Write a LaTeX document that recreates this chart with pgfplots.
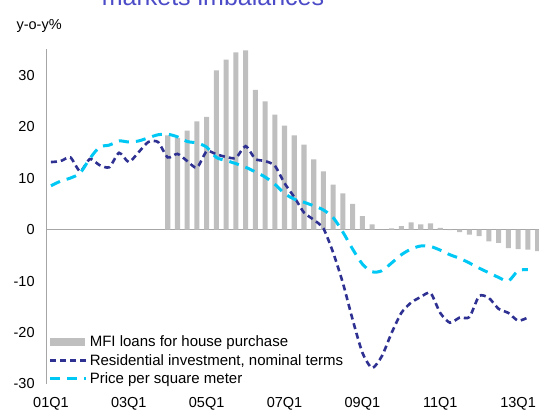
\documentclass[border=0pt]{standalone}
\usepackage{fontspec}
\setmainfont{Liberation Sans}
\usepackage{pgfplots}
\pgfplotsset{compat=1.18}
\definecolor{barcol}{HTML}{BFBFBF}
\definecolor{resblue}{HTML}{2E3192}
\definecolor{pricecyan}{HTML}{00C8F5}
\definecolor{titleblue}{HTML}{4B4BC8}
\definecolor{axcol}{HTML}{A6A6A6}

% MFI loans for house purchase (quarter index, 0 = 01Q1)
\pgfplotstableread{
x y
12 18.3
13 17.8
14 19.2
15 21.0
16 21.9
17 30.9
18 33.0
19 34.4
20 34.8
21 27.1
22 24.9
23 22.3
24 20.2
25 18.3
26 16.5
27 13.6
28 11.3
29 8.7
30 7.0
31 5.0
32 2.6
33 1.0
34 0.0
35 0.2
36 0.65
37 1.4
38 1.0
39 1.2
40 0.3
41 -0.1
42 -0.5
43 -1.0
44 -1.3
45 -2.3
46 -2.6
47 -3.6
48 -3.8
49 -3.9
50 -4.2
}\loans

% Residential investment, nominal terms
\pgfplotstableread{
x y
0 13.1
1 13.3
2 14.0
3 11.3
4 13.7
5 12.5
6 12.1
7 14.9
8 13.1
9 15.0
10 17.0
11 17.0
12 14.0
13 14.7
14 13.3
15 12.0
16 15.2
17 14.6
18 14.1
19 13.9
20 16.2
21 13.7
22 13.3
23 12.4
24 9.0
25 6.3
26 3.3
27 1.9
28 0.2
29 -4.5
30 -10.4
31 -17.5
32 -23.9
33 -26.9
34 -24.6
35 -20.1
36 -16.2
37 -14.2
38 -13.1
39 -12.3
40 -16.2
41 -18.1
42 -17.1
43 -17.0
44 -12.9
45 -13.3
46 -15.4
47 -16.2
48 -17.7
49 -17.1
}\resinv

% Price per square meter
\pgfplotstableread{
x y
0 8.5
1 9.4
2 10.0
3 11.0
4 13.8
5 16.0
6 16.4
7 17.2
8 17.0
9 17.2
10 17.8
11 18.4
12 18.5
13 18.0
14 17.1
15 16.8
16 16.0
17 14.0
18 13.4
19 12.8
20 12.1
21 11.2
22 10.2
23 8.8
24 7.0
25 5.9
26 5.3
27 4.6
28 3.8
29 2.3
30 -0.5
31 -3.8
32 -6.7
33 -8.2
34 -8.0
35 -6.5
36 -4.9
37 -3.8
38 -3.2
39 -3.3
40 -4.0
41 -4.9
42 -5.6
43 -6.5
44 -7.5
45 -8.4
46 -9.3
47 -10.0
48 -8.0
49 -7.8
}\price

\pgfplotsset{
  barleg/.style={legend image code/.code={\fill[barcol] (0pt,-4pt) rectangle (35pt,4pt);}},
  resleg/.style={legend image code/.code={\draw[resblue, line width=2.5pt, dash pattern=on 6pt off 4pt] (0pt,0pt) -- (36pt,0pt);}},
  priceleg/.style={legend image code/.code={\draw[pricecyan, line width=3pt, dash pattern=on 10pt off 7pt] (0pt,0pt) -- (36pt,0pt);}},
}

\begin{document}
\begin{tikzpicture}[x=1pt,y=1pt]
\begin{axis}[
  at={(46.1pt,-384pt)}, anchor=south west,
  scale only axis, width=492.9pt, height=334.7pt,
  xmin=-0.5, xmax=50.15, ymin=-30, ymax=35,
  axis x line*=bottom, axis y line*=left,
  x axis line style={draw=none},
  y axis line style={draw=axcol, line width=0.8pt},
  major tick length=0pt, tick style={draw=none},
  xtick={0,8,16,24,32,40,48},
  xticklabels={01Q1,03Q1,05Q1,07Q1,09Q1,11Q1,13Q1},
  ytick={-30,-20,-10,0,10,20,30},
  yticklabels={-30,-20,-10,0,10,20,30},
  tick label style={font=\fontsize{14.5}{16}\selectfont},
  yticklabel style={xshift=-8pt},
  xticklabel style={yshift=-10pt},
  extra y ticks={0}, extra y tick labels={},
  extra y tick style={grid=major, major grid style={draw=axcol, line width=0.8pt}},
  legend style={at={(0.005,0.15)}, anchor=north west, draw=none, fill=none,
    font=\fontsize{15}{17}\selectfont, inner sep=0pt, row sep=2pt},
  legend cell align=left,
]
\addplot[ybar, bar width=0.52, fill=barcol, draw=none, barleg]
  table[x=x, y=y] {\loans};
\addlegendentry{MFI loans for house purchase}

\addplot[resblue, line width=2.6pt, dash pattern=on 6pt off 4pt, smooth, tension=0.4, resleg]
  table[x=x, y=y] {\resinv};
\addlegendentry{Residential investment, nominal terms}

\addplot[pricecyan, line width=3pt, dash pattern=on 10pt off 7pt, smooth, tension=0.5, priceleg]
  table[x=x, y=y] {\price};
\addlegendentry{Price per square meter}
\end{axis}
\node[anchor=base west, font=\fontsize{14.5}{16}\selectfont] at (13pt,-29pt) {y-o-y\%};
\node[anchor=base, font=\fontsize{25}{28}\selectfont, text=titleblue] at (213pt,-5pt) {markets imbalances};
\pgfresetboundingbox
\path[use as bounding box] (0pt,0pt) rectangle (539pt,-410pt);
\end{tikzpicture}
\end{document}
